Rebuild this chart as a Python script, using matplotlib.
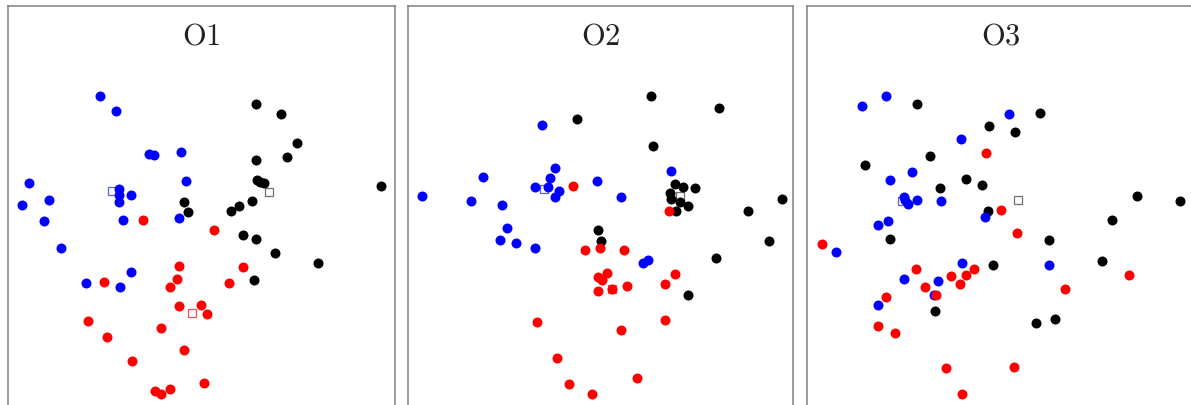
import matplotlib
matplotlib.use("Agg")
import matplotlib.pyplot as plt

plt.rcParams['mathtext.fontset'] = 'cm'

titles = ["O1", "O2", "O3"]

# ---- panel O1 ----
o1_blue_x = [92, 108, 141, 146, 173, 21, 178, 111, 111, 111, 123, 41, 14, 36, 115, 171, 53, 123, 78, 112]
o1_blue_y = [90, 105, 148, 149, 146, 177, 175, 183, 189, 196, 189, 194, 199, 215, 214, 212, 242, 266, 277, 281]
o1_black_x = [248, 273, 289, 279, 248, 249, 252, 256, 373, 244, 231, 223, 176, 180, 235, 248, 267, 310, 246]
o1_black_y = [98, 108, 137, 151, 154, 174, 176, 177, 180, 195, 200, 205, 196, 206, 229, 233, 247, 257, 274]
o1_red_x = [135, 206, 171, 235, 96, 169, 162, 221, 171, 193, 199, 80, 153, 99, 176, 124, 196, 147, 153, 162]
o1_red_y = [214, 224, 260, 261, 276, 273, 281, 277, 300, 299, 308, 315, 322, 331, 344, 355, 377, 385, 388, 383]
o1_centers = {"blue": (104, 185), "black": (261, 186), "red": (184, 307)}

# ---- panel O2 ----
o2_blue_x = [134, 147, 75, 142, 127, 140, 151, 147, 189, 14, 63, 94, 213, 263, 99, 92, 108, 127, 235, 240]
o2_blue_y = [119, 162, 171, 172, 181, 181, 185, 191, 175, 190, 195, 199, 191, 165, 222, 234, 237, 242, 257, 254]
o2_black_x = [243, 311, 169, 245, 267, 275, 287, 262, 263, 272, 280, 268, 374, 340, 190, 193, 361, 308, 280]
o2_black_y = [90, 102, 113, 140, 178, 181, 182, 187, 193, 196, 200, 205, 193, 205, 224, 235, 235, 252, 289]
o2_red_x = [165, 261, 177, 192, 216, 190, 199, 194, 219, 190, 204, 267, 257, 129, 257, 213, 149, 229, 161, 184]
o2_red_y = [180, 205, 244, 242, 244, 271, 267, 274, 280, 285, 283, 268, 278, 316, 314, 324, 352, 372, 378, 388]
o2_centers = {"blue": (136, 183), "black": (272, 190), "red": (204, 283)}

# ---- panel O3 ----
o3_blue_x = [55, 79, 202, 154, 105, 83, 97, 98, 101, 110, 134, 81, 71, 178, 29, 155, 242, 97, 131, 127, 71]
o3_blue_y = [100, 90, 108, 133, 166, 174, 191, 194, 198, 194, 195, 215, 219, 211, 246, 257, 259, 273, 275, 289, 299]
o3_black_x = [110, 233, 182, 208, 123, 58, 159, 175, 133, 330, 373, 181, 305, 83, 242, 295, 186, 128, 229, 248]
o3_black_y = [98, 107, 120, 126, 150, 159, 173, 179, 182, 190, 195, 205, 214, 233, 234, 255, 259, 305, 317, 313]
o3_red_x = [179, 194, 210, 15, 109, 144, 159, 167, 153, 118, 129, 79, 322, 258, 71, 88, 139, 207, 155]
o3_red_y = [147, 204, 227, 238, 263, 270, 269, 263, 278, 281, 289, 291, 269, 283, 320, 327, 362, 361, 388]
o3_centers = {"blue": (95, 195), "black": (211, 194)}

panels = [
    (titles[0], o1_blue_x, o1_blue_y, o1_black_x, o1_black_y, o1_red_x, o1_red_y, o1_centers),
    (titles[1], o2_blue_x, o2_blue_y, o2_black_x, o2_black_y, o2_red_x, o2_red_y, o2_centers),
    (titles[2], o3_blue_x, o3_blue_y, o3_black_x, o3_black_y, o3_red_x, o3_red_y, o3_centers),
]

W, H = 1191, 405
fig = plt.figure(figsize=(W / 100, H / 100), dpi=100)

# panel frames in pixels: (left, width)
frames = [(8, 387), (408, 385), (807, 387)]
top_px = 6
ax_h_px = 420

dot_colors = {"blue": "#0000ff", "black": "#000000", "red": "#ff0000"}
sq_colors = {"blue": "#5a5aff", "black": "#707070", "red": "#ff5050"}

for (title, bx, by, kx, ky, rx, ry, centers), (lpx, wpx) in zip(panels, frames):
    bottom = (H - top_px - ax_h_px) / H
    ax = fig.add_axes([lpx / W, bottom, wpx / W, ax_h_px / H])
    ax.set_xlim(0, wpx)
    ax.set_ylim(ax_h_px, 0)
    ax.set_xticks([])
    ax.set_yticks([])
    for sp in ax.spines.values():
        sp.set_color("#808080")
        sp.set_linewidth(1.1)
    for name, c in centers.items():
        ax.plot([c[0]], [c[1]], linestyle="none", marker="s", markersize=6.3,
                markerfacecolor="none", markeredgecolor=sq_colors[name],
                markeredgewidth=0.9, zorder=1)
    ax.plot(kx, ky, linestyle="none", marker="o", markersize=7.2,
            color=dot_colors["black"], markeredgewidth=0, zorder=2)
    ax.plot(bx, by, linestyle="none", marker="o", markersize=7.2,
            color=dot_colors["blue"], markeredgewidth=0, zorder=3)
    ax.plot(rx, ry, linestyle="none", marker="o", markersize=7.2,
            color=dot_colors["red"], markeredgewidth=0, zorder=4)
    ax.text(0.5, 1 - 30 / ax_h_px, r"$\mathrm{%s}$" % title, transform=ax.transAxes,
            ha="center", va="center", fontsize=22, color="#222222")

fig.savefig("out.png", dpi=100)
